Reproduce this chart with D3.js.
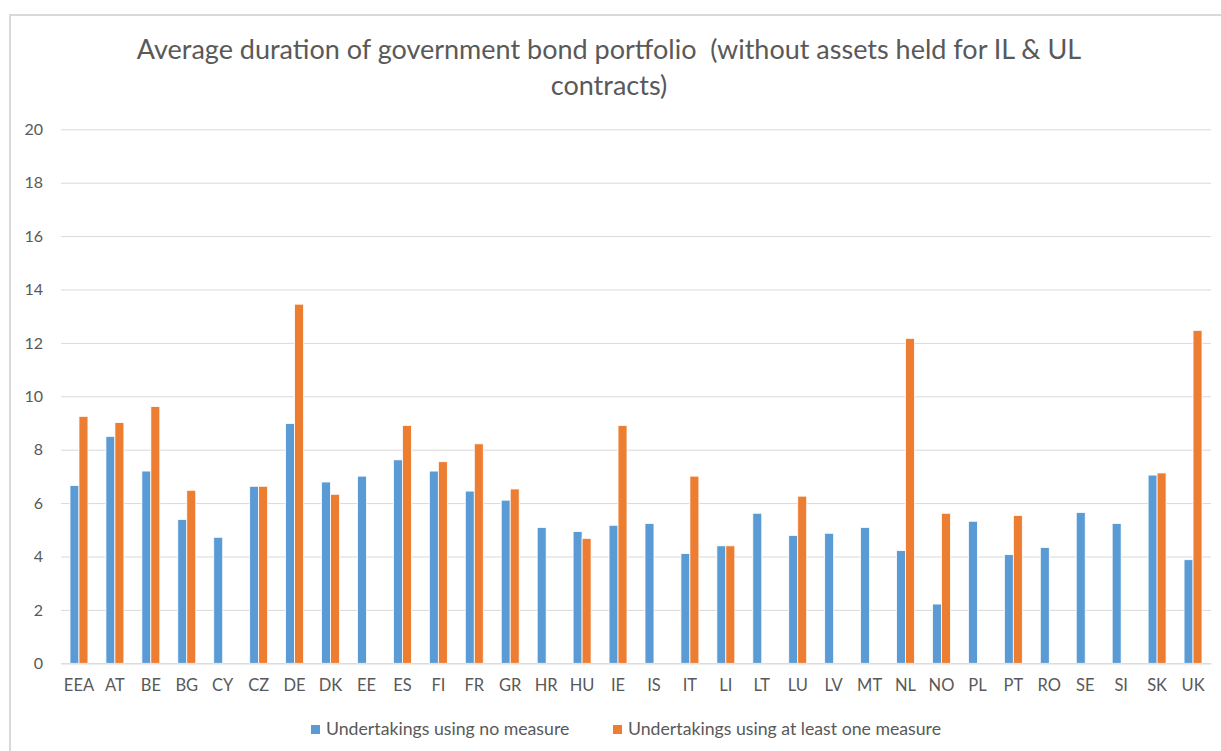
<!DOCTYPE html>
<html>
<head>
<meta charset="utf-8">
<script src="https://cdn.jsdelivr.net/npm/d3@7"></script>
<style>
  html, body { margin: 0; padding: 0; background: #fff; }
  text { font-family: Lato, "Open Sans", sans-serif; fill: #595959; }
</style>
</head>
<body>
<svg id="chart" width="1221" height="751"></svg>
<script>
const countries = ["EEA", "AT", "BE", "BG", "CY", "CZ", "DE", "DK", "EE", "ES",
  "FI", "FR", "GR", "HR", "HU", "IE", "IS", "IT", "LI", "LT",
  "LU", "LV", "MT", "NL", "NO", "PL", "PT", "RO", "SE", "SI", "SK", "UK"];

const noMeasure = [6.66, 8.5, 7.2, 5.39, 4.72, 6.63, 8.98, 6.79, 7.01, 7.62,
  7.2, 6.45, 6.11, 5.09, 4.94, 5.17, 5.24, 4.11, 4.4, 5.62,
  4.79, 4.87, 5.09, 4.22, 2.22, 5.32, 4.07, 4.34, 5.65, 5.24, 7.05, 3.88];

const atLeastOne = [9.25, 9.02, 9.62, 6.48, null, 6.63, 13.45, 6.33, null, 8.91,
  7.55, 8.22, 6.53, null, 4.68, 8.91, null, 7.01, 4.4, null,
  6.26, null, null, 12.17, 5.62, null, 5.54, null, null, null, 7.13, 12.47];

const seriesNames = ["Undertakings using no measure", "Undertakings using at least one measure"];
const seriesColors = ["#5B9BD5", "#ED7D31"];
const yTicks = [0, 2, 4, 6, 8, 10, 12, 14, 16, 18, 20];

const titleLines = [
  "Average duration of government bond portfolio  (without assets held for IL & UL",
  "contracts)"
];

const svg = d3.select("#chart");

//--chart frame (runs off the right and bottom edge)
svg.append("path")
  .attr("d", "M10,760V15H1230")
  .attr("fill", "none")
  .attr("stroke", "#d9d9d9")
  .attr("stroke-width", 2);

//--title
svg.append("g")
  .selectAll("text")
  .data(titleLines)
  .enter()
  .append("text")
  .attr("x", 609)
  .attr("y", (d, i) => 59 + i * 36)
  .attr("text-anchor", "middle")
  .attr("font-size", "27px")
  .style("white-space", "pre")
  .text((d) => d);

const plotLeft = 61, plotRight = 1211, plotTop = 129.3, plotBottom = 663.3;

const x0 = d3.scaleBand()
  .domain(countries)
  .range([plotLeft, plotRight])
  .paddingInner(0.5)
  .paddingOuter(0.25);

const x1 = d3.scaleBand()
  .domain([0, 1])
  .range([0, x0.bandwidth()]);

const y = d3.scaleLinear().domain([0, 20]).range([plotBottom, plotTop]);

//--gridlines + y labels
const yAxis = svg.append("g")
  .attr("transform", `translate(${plotLeft},0)`)
  .call(d3.axisLeft(y).tickValues(yTicks).tickSize(-(plotRight - plotLeft)).tickPadding(18));
yAxis.select(".domain").remove();
yAxis.selectAll(".tick line").attr("stroke", "#d9d9d9");
yAxis.selectAll(".tick text")
  .attr("font-size", "16px")
  .attr("font-family", "Lato, 'Open Sans', sans-serif")
  .attr("fill", "#595959");

//--bars
const rows = countries.map((c, i) => ({ c, vals: [noMeasure[i], atLeastOne[i]] }));

svg.append("g")
  .selectAll("g")
  .data(rows)
  .enter()
  .append("g")
  .attr("transform", (d) => `translate(${x0(d.c)},0)`)
  .selectAll("rect")
  .data((d) => d.vals.map((v, k) => ({ v, k })).filter((e) => e.v != null))
  .enter()
  .append("rect")
  .attr("x", (d) => x1(d.k))
  .attr("width", x1.bandwidth())
  .attr("y", (d) => y(d.v))
  .attr("height", (d) => plotBottom - y(d.v))
  .attr("fill", (d) => seriesColors[d.k])
  .attr("stroke", "#fff")
  .attr("stroke-width", 0.8);

//--x axis
const xAxis = svg.append("g")
  .attr("transform", `translate(0,${plotBottom})`)
  .call(d3.axisBottom(x0).tickSize(0).tickPadding(16));
xAxis.select(".domain").attr("stroke", "#d9d9d9");
xAxis.selectAll(".tick text")
  .attr("font-size", "16.5px")
  .attr("font-family", "Lato, 'Open Sans', sans-serif")
  .attr("fill", "#595959");

//--legend
const legendX = [311, 613];
const legend = svg.append("g")
  .selectAll("g")
  .data(seriesNames)
  .enter()
  .append("g")
  .attr("transform", (d, i) => `translate(${legendX[i]},725)`);

legend.append("rect")
  .attr("width", 9)
  .attr("height", 9)
  .attr("fill", (d, i) => seriesColors[i]);

legend.append("text")
  .attr("x", 15)
  .attr("y", 10)
  .attr("font-size", "17.7px")
  .text((d) => d);
</script>
</body>
</html>
